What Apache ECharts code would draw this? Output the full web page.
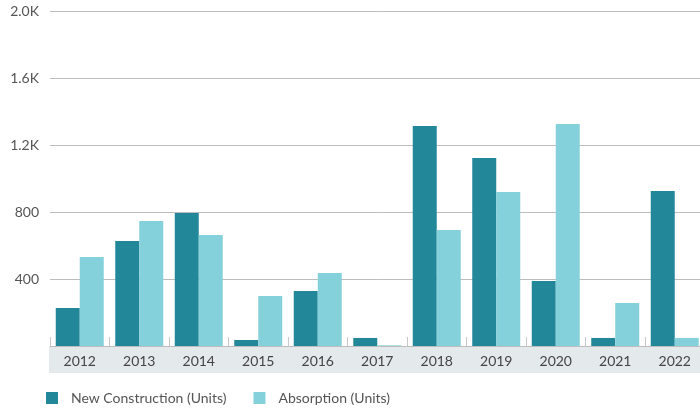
<!DOCTYPE html>
<html>
<head>
<meta charset="utf-8">
<script src="https://cdn.jsdelivr.net/npm/echarts@6/dist/echarts.min.js"></script>
<style>
html,body{margin:0;padding:0;background:#fff;overflow:hidden;width:700px;height:408px;}
#chart{width:706px;height:408px;}
</style>
</head>
<body>
<div id="chart"></div>
<script>
var categories = ['2012','2013','2014','2015','2016','2017','2018','2019','2020','2021','2022'];
var newConstruction = [227, 627, 794, 36, 328, 48, 1313, 1122, 388, 48, 925];
var absorption = [531, 746, 663, 299, 436, 4, 693, 919, 1325, 257, 48];
var seriesNames = ['New Construction (Units)', 'Absorption (Units)'];

var chart = echarts.init(document.getElementById('chart'));
var font = 'Lato, "Noto Sans", sans-serif';
chart.setOption({
  animation: false,
  textStyle: { fontFamily: font },
  grid: { left: 50, width: 654.5, top: 11, height: 335, containLabel: false },
  graphic: [{
    type: 'rect', z: -1,
    shape: { x: 49, y: 346, width: 657, height: 27 },
    style: { fill: '#e4e9ec' }
  }],
  legend: {
    left: 46, top: 391, padding: 0, itemWidth: 12, itemHeight: 12, itemGap: 27,
    icon: 'rect',
    textStyle: { fontFamily: font, fontSize: 14, color: '#555', padding: [0, 0, 0, 8] },
    data: seriesNames
  },
  xAxis: {
    type: 'category', data: categories,
    axisLine: { show: false },
    axisTick: { show: true, inside: true, length: 9, lineStyle: { color: '#c8c8c8', width: 1 } },
    axisLabel: { color: '#444', fontSize: 14, fontFamily: font, margin: 8 }
  },
  yAxis: {
    type: 'value', min: 0, max: 2000, interval: 400,
    axisLine: { show: false }, axisTick: { show: false },
    splitLine: { lineStyle: { color: '#bdbdbd', width: 1 } },
    axisLabel: {
      color: '#555', fontSize: 14, fontFamily: font, margin: 11,
      formatter: function (v) { if (v === 0) return ''; return v >= 1000 ? (v / 1000).toFixed(1) + 'K' : String(v); }
    }
  },
  series: [
    { name: seriesNames[0], type: 'bar', data: newConstruction, barWidth: 24, barGap: '0%', itemStyle: { color: '#23879a' } },
    { name: seriesNames[1], type: 'bar', data: absorption, barWidth: 24, barGap: '0%', itemStyle: { color: '#84d1db' } }
  ]
});
</script>
</body>
</html>
